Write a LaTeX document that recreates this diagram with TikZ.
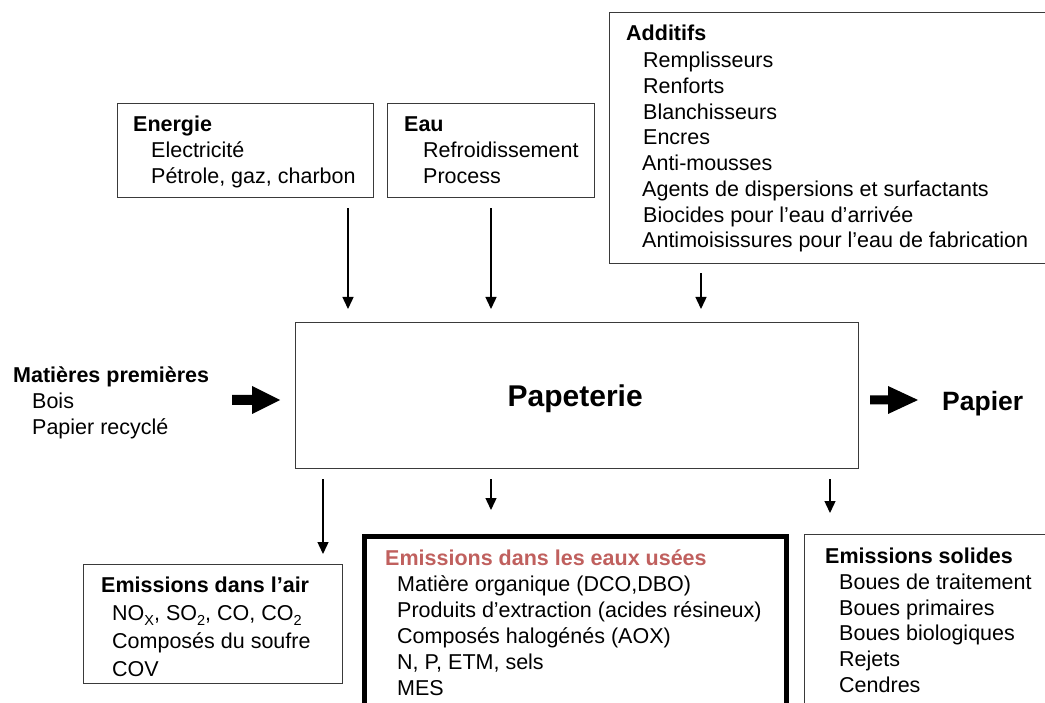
\documentclass[tikz,border=0pt]{standalone}
\usepackage{fontspec}
\setmainfont{Liberation Sans}
\usetikzlibrary{arrows.meta}
\definecolor{boxgray}{HTML}{3A3A3A}
\definecolor{wastered}{HTML}{C0605E}
% chemical-formula index, set lower than \textsubscript
\newcommand{\chemidx}[1]{\raisebox{-5pt}{\fontsize{14.5}{14.5}\selectfont #1}}
\begin{document}
\begin{tikzpicture}[x=1pt,y=-1pt,
  box/.style={draw=boxgray, line width=1.4pt, inner sep=0pt, anchor=north west},
  heavybox/.style={draw=black, line width=4.5pt, inner sep=0pt, anchor=north west},
  head/.style={font=\fontsize{21.5}{25.8}\selectfont\bfseries, anchor=base west, inner sep=0pt},
  item/.style={font=\fontsize{21.5}{25.8}\selectfont, anchor=base west, inner sep=0pt},
  link/.style={line width=1.4pt, -{Triangle[length=12pt,width=11pt]}},
  fatarrow/.style={fill=black},
]
\useasboundingbox (0,0) rectangle (1045,703);
\clip (0,0) rectangle (1045,703);

% --- boxes ---
\node[box, minimum width=256pt, minimum height=94pt] (energie) at (117,103) {};
\node[box, minimum width=207pt, minimum height=94pt] (eau) at (387,103) {};
\node[box, minimum width=450pt, minimum height=251pt] (additifs) at (609,12) {};
\node[box, minimum width=563pt, minimum height=146pt] (pap) at (295,322) {};
\node[box, minimum width=259pt, minimum height=119pt] (air) at (83,564) {};
\node[heavybox, minimum width=422pt, minimum height=200pt] (eaux) at (362,534) {};
\node[box, minimum width=260pt, minimum height=200pt] (solides) at (804,534) {};

% --- Energie ---
\node[head] (energie-t) at (133,132) {Energie};
\node[item] (energie-1) at (151,158) {Electricité};
\node[item] (energie-2) at (151,184) {Pétrole, gaz, charbon};

% --- Eau ---
\node[head] (eau-t) at (404,132) {Eau};
\node[item] (eau-1) at (423,158) {Refroidissement};
\node[item] (eau-2) at (423,184) {Process};

% --- Additifs ---
\node[head] (add-t) at (626,41) {Additifs};
\node[item] (add-1) at (643,68) {Remplisseurs};
\node[item] (add-2) at (643,94) {Renforts};
\node[item] (add-3) at (643,119.5) {Blanchisseurs};
\node[item] (add-4) at (643,145) {Encres};
\node[item] (add-5) at (642,171) {Anti-mousses};
\node[item] (add-6) at (642,197) {Agents de dispersions et surfactants};
\node[item] (add-7) at (643,222.5) {Biocides pour l’eau d’arrivée};
\node[item] (add-8) at (642,248) {Antimoisissures pour l’eau de fabrication};

% --- Matières premières ---
\node[head] (mat-t) at (13,383) {Matières premières};
\node[item] (mat-1) at (32,409) {Bois};
\node[item] (mat-2) at (32,435) {Papier recyclé};

% --- Papeterie and product ---
\node[font=\fontsize{30}{36}\selectfont\bfseries, inner sep=0pt] (pap-t) at ([xshift=-2pt,yshift=-3pt]pap.center) {Papeterie};
\node[font=\fontsize{26.5}{32}\selectfont\bfseries, anchor=base west, inner sep=0pt] (papier) at (942,410) {Papier};

% --- Emissions dans l'air ---
\node[head] (air-t) at (101,592) {Emissions dans l’air};
\node[item] (air-1) at (112,620) {NO\chemidx{X}, SO\chemidx{2}, CO, CO\chemidx{2}};
\node[item] (air-2) at (112,648) {Composés du soufre};
\node[item] (air-3) at (112,676) {COV};

% --- Emissions dans les eaux usées ---
\node[head, text=wastered] (eaux-t) at (385,565) {Emissions dans les eaux usées};
\node[item] (eaux-1) at (397,591) {Matière organique (DCO,DBO)};
\node[item] (eaux-2) at (397,617) {Produits d’extraction (acides résineux)};
\node[item] (eaux-3) at (397,643) {Composés halogénés (AOX)};
\node[item] (eaux-4) at (397,669) {N, P, ETM, sels};
\node[item] (eaux-5) at (397,695) {MES};

% --- Emissions solides ---
\node[head] (sol-t) at (825,563) {Emissions solides};
\node[item] (sol-1) at (839,589) {Boues de traitement};
\node[item] (sol-2) at (839,615) {Boues primaires};
\node[item] (sol-3) at (839,640.5) {Boues biologiques};
\node[item] (sol-4) at (839,666) {Rejets};
\node[item] (sol-5) at (839,692) {Cendres};

% --- inputs into the mill ---
\draw[link, shorten <=10pt, shorten >=13pt] (348,0 |- energie.south) -- (348,0 |- pap.north);
\draw[link, shorten <=10pt, shorten >=13pt] (491,0 |- eau.south) -- (491,0 |- pap.north);
\draw[link, shorten <=9pt, shorten >=13pt] (701,0 |- additifs.south) -- (701,0 |- pap.north);

% --- outputs of the mill ---
\draw[link, shorten <=10pt, shorten >=10pt] (323,0 |- pap.south) -- (323,0 |- air.north);
\draw[link, shorten <=10pt, shorten >=24pt] (491,0 |- pap.south) -- (491,0 |- eaux.north);
\draw[link, shorten <=10pt, shorten >=21pt] (830,0 |- pap.south) -- (830,0 |- solides.north);

% --- broad arrows: raw material in, paper out ---
\coordinate (in-start) at (232,400);
\coordinate (out-start) at (870,400);
\fill[fatarrow] (in-start) ++(0,-5) -- ++(20,0) -- ++(0,-9) -- ++(28,14) -- ++(-28,14) -- ++(0,-9) -- ++(-20,0) -- cycle;
\fill[fatarrow] (out-start) ++(0,-4.5) -- ++(18,0) -- ++(0,-9.5) -- ++(30,14) -- ++(-30,14) -- ++(0,-9.5) -- ++(-18,0) -- cycle;
\end{tikzpicture}
\end{document}
